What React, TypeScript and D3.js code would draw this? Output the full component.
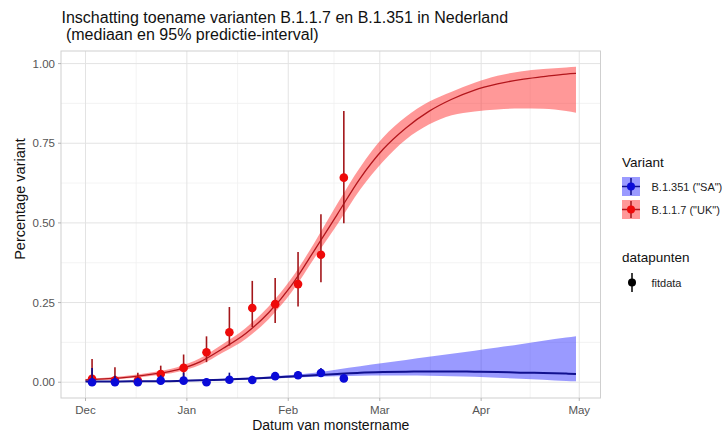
import React from "react";
import * as d3 from "d3";

// ---- data ----
const curveDates = [
  "2020-12-01", "2020-12-08", "2020-12-15", "2020-12-22", "2020-12-29",
  "2021-01-05", "2021-01-12", "2021-01-19", "2021-01-26", "2021-02-02",
  "2021-02-09", "2021-02-16", "2021-02-23", "2021-03-02", "2021-03-09",
  "2021-03-16", "2021-03-23", "2021-03-30", "2021-04-06", "2021-04-13",
  "2021-04-20", "2021-04-27", "2021-04-30",
];
const ukMedian = [0.007, 0.011, 0.017, 0.026, 0.039, 0.064, 0.106, 0.153, 0.218, 0.304, 0.414, 0.527, 0.640, 0.731, 0.798, 0.850, 0.888, 0.917, 0.936, 0.950, 0.959, 0.967, 0.969];
const ukLower = [0.005, 0.008, 0.013, 0.021, 0.032, 0.054, 0.093, 0.136, 0.198, 0.282, 0.390, 0.495, 0.605, 0.693, 0.762, 0.809, 0.838, 0.850, 0.856, 0.859, 0.858, 0.851, 0.846];
const ukUpper = [0.010, 0.015, 0.022, 0.032, 0.047, 0.075, 0.120, 0.170, 0.238, 0.326, 0.438, 0.560, 0.675, 0.768, 0.833, 0.880, 0.912, 0.940, 0.962, 0.975, 0.983, 0.988, 0.990];
const saMedian = [0.002, 0.002, 0.003, 0.003, 0.004, 0.006, 0.008, 0.011, 0.014, 0.018, 0.022, 0.026, 0.030, 0.032, 0.033, 0.034, 0.034, 0.033, 0.032, 0.030, 0.029, 0.027, 0.026];
const saLower = [0.001, 0.001, 0.002, 0.002, 0.003, 0.004, 0.006, 0.008, 0.011, 0.014, 0.017, 0.019, 0.020, 0.021, 0.021, 0.020, 0.019, 0.017, 0.014, 0.011, 0.008, 0.004, 0.003];
const saUpper = [0.004, 0.004, 0.005, 0.005, 0.006, 0.008, 0.011, 0.014, 0.018, 0.023, 0.030, 0.040, 0.050, 0.060, 0.070, 0.080, 0.089, 0.099, 0.109, 0.119, 0.130, 0.140, 0.144];

const pointDates = [
  "2020-12-03", "2020-12-10", "2020-12-17", "2020-12-24", "2020-12-31",
  "2021-01-07", "2021-01-14", "2021-01-21", "2021-01-28", "2021-02-04",
  "2021-02-11", "2021-02-18",
];
const ukPoint = [0.011, 0.006, 0.005, 0.026, 0.045, 0.094, 0.157, 0.233, 0.245, 0.308, 0.400, 0.642];
const ukPointLo = [0.000, 0.000, 0.000, 0.005, 0.017, 0.063, 0.115, 0.173, 0.186, 0.238, 0.314, 0.499];
const ukPointHi = [0.073, 0.047, 0.030, 0.052, 0.087, 0.144, 0.236, 0.318, 0.327, 0.409, 0.527, 0.851];
const saPoint = [0.000, 0.000, 0.000, 0.005, 0.005, 0.000, 0.008, 0.007, 0.019, 0.022, 0.029, 0.012];
const saPointLo = [0.000, 0.000, 0.000, 0.000, 0.000, 0.000, 0.001, 0.001, 0.010, 0.012, 0.018, 0.004];
const saPointHi = [0.045, 0.020, 0.015, 0.022, 0.030, 0.012, 0.030, 0.020, 0.032, 0.035, 0.045, 0.025];

const yTicks = [0, 0.25, 0.5, 0.75, 1];
const variantLabels = ['B.1.351 ("SA")', 'B.1.1.7 ("UK")'];
const titleLines = ["Inschatting toename varianten B.1.1.7 en B.1.351 in Nederland", " (mediaan en 95% predictie-interval)"];

// ---- styling ----
const W = 725, H = 436;
const panel = { left: 61, right: 600.5, top: 51, bottom: 398 };
const FONT = "'Liberation Sans', Arial, Helvetica, sans-serif";
const RED = { ribbon: "#ff1a1a", line: "#b3161c", point: "#ee0a0a", bar: "#a3161a" };
const BLUE = { ribbon: "#2020ff", line: "#10108f", point: "#0a0ad8", bar: "#0a0a8a" };

const parse = d3.utcParse("%Y-%m-%d");

export default function App() {
  const cd = curveDates.map((s) => parse(s) as Date);
  const pd = pointDates.map((s) => parse(s) as Date);

  const [xmin, xmax] = d3.extent(cd) as [Date, Date];
  const span = +xmax - +xmin;
  const x = d3
    .scaleUtc()
    .domain([new Date(+xmin - 0.05 * span), new Date(+xmax + 0.05 * span)])
    .range([panel.left, panel.right]);

  const ymin = 0, ymax = d3.max(ukUpper) as number;
  const yspan = ymax - ymin;
  const y = d3
    .scaleLinear()
    .domain([ymin - 0.05 * yspan, ymax + 0.05 * yspan])
    .range([panel.bottom, panel.top]);

  const majorX = d3.utcMonth.range(x.domain()[0], x.domain()[1]).filter((d) => d >= x.domain()[0]);
  const minorX = majorX.slice(1).map((d, i) => new Date((+d + +majorX[i]) / 2));
  const minorY = yTicks.slice(1).map((d, i) => (d + yTicks[i]) / 2);

  const area = (lo: number[], hi: number[]) =>
    d3
      .area<number>()
      .x((i) => x(cd[i]))
      .y0((i) => y(lo[i]))
      .y1((i) => y(hi[i]))
      .curve(d3.curveMonotoneX)(d3.range(cd.length)) as string;
  const line = (v: number[]) =>
    d3
      .line<number>()
      .x((i) => x(cd[i]))
      .y((i) => y(v[i]))
      .curve(d3.curveMonotoneX)(d3.range(cd.length)) as string;

  const fmtY = d3.format(".2f");
  const fmtM = d3.utcFormat("%b");

  const series = [
    { col: RED, med: ukMedian, lo: ukLower, hi: ukUpper, p: ukPoint, plo: ukPointLo, phi: ukPointHi, lw: 1.3 },
    { col: BLUE, med: saMedian, lo: saLower, hi: saUpper, p: saPoint, plo: saPointLo, phi: saPointHi, lw: 2 },
  ];

  const legendCols = [BLUE, RED];
  const keyX = 622, keyW = 18;
  const keyY = [177, 200];
  const keyH = 19;

  return (
    <svg width={W} height={H} style={{ position: "absolute", left: 0, top: 0, background: "#fff" }} fontFamily={FONT}>
      <rect x={0} y={0} width={W} height={H} fill="#fff" />
      {/* title */}
      <text x={61.5} y={23} fontSize={16} fill="#111">{titleLines[0]}</text>
      <text x={61.5} y={39.5} fontSize={16} fill="#111" style={{ whiteSpace: "pre" }}>{titleLines[1]}</text>

      {/* panel grid */}
      <g>
        {minorY.map((v) => (
          <line key={"my" + v} x1={panel.left} x2={panel.right} y1={y(v)} y2={y(v)} stroke="#f0f0f0" strokeWidth={0.8} />
        ))}
        {minorX.map((d) => (
          <line key={"mx" + +d} x1={x(d)} x2={x(d)} y1={panel.top} y2={panel.bottom} stroke="#f0f0f0" strokeWidth={0.8} />
        ))}
        {yTicks.map((v) => (
          <line key={"gy" + v} x1={panel.left} x2={panel.right} y1={y(v)} y2={y(v)} stroke="#e3e3e3" strokeWidth={1} />
        ))}
        {majorX.map((d) => (
          <line key={"gx" + +d} x1={x(d)} x2={x(d)} y1={panel.top} y2={panel.bottom} stroke="#e3e3e3" strokeWidth={1} />
        ))}
      </g>

      {/* ribbons */}
      {series.map((s, k) => (
        <path key={"rib" + k} d={area(s.lo, s.hi)} fill={s.col.ribbon} fillOpacity={0.45} stroke="none" />
      ))}
      {/* median lines */}
      {series.map((s, k) => (
        <path key={"med" + k} d={line(s.med)} fill="none" stroke={s.col.line} strokeWidth={s.lw} />
      ))}
      {/* point ranges */}
      {series.map((s, k) => (
        <g key={"pts" + k}>
          {pd.map((d, i) => (
            <line key={"b" + i} x1={x(d)} x2={x(d)} y1={y(s.plo[i])} y2={y(s.phi[i])} stroke={s.col.bar} strokeWidth={1.6} />
          ))}
          {pd.map((d, i) => (
            <circle key={"c" + i} cx={x(d)} cy={y(s.p[i])} r={4.3} fill={s.col.point} />
          ))}
        </g>
      ))}

      {/* panel border */}
      <rect x={panel.left} y={panel.top} width={panel.right - panel.left} height={panel.bottom - panel.top} fill="none" stroke="#cfcfcf" strokeWidth={1} />

      {/* y axis */}
      {yTicks.map((v) => (
        <g key={"yt" + v}>
          <line x1={panel.left - 3} x2={panel.left} y1={y(v)} y2={y(v)} stroke="#b3b3b3" />
          <text x={panel.left - 6} y={y(v)} dy="0.35em" textAnchor="end" fontSize={11.5} fill="#555">{fmtY(v)}</text>
        </g>
      ))}
      {/* x axis */}
      {majorX.map((d) => (
        <g key={"xt" + +d}>
          <line x1={x(d)} x2={x(d)} y1={panel.bottom} y2={panel.bottom + 3} stroke="#b3b3b3" />
          <text x={x(d)} y={414} textAnchor="middle" fontSize={11.5} fill="#555">{fmtM(d)}</text>
        </g>
      ))}
      <text x={(panel.left + panel.right) / 2} y={430} textAnchor="middle" fontSize={14} fill="#111">Datum van monstername</text>
      <text transform={`translate(25,199) rotate(-90)`} textAnchor="middle" fontSize={14.5} fill="#111">Percentage variant</text>

      {/* legend: Variant */}
      <text x={622} y={167} fontSize={13.5} fill="#111">Variant</text>
      {legendCols.map((c, i) => {
        const cx = keyX + keyW / 2;
        const cy = keyY[i] + keyH / 2;
        return (
          <g key={"lk" + i}>
            <rect x={keyX} y={keyY[i]} width={keyW} height={keyH} fill={c.ribbon} fillOpacity={0.45} />
            <line x1={keyX} x2={keyX + keyW} y1={cy} y2={cy} stroke={c.line} strokeWidth={1.5} />
            <line x1={cx} x2={cx} y1={keyY[i] + 1} y2={keyY[i] + keyH - 1} stroke={c.bar} strokeWidth={1.5} />
            <circle cx={cx} cy={cy} r={4} fill={c.point} />
            <text x={651.5} y={cy + 4} fontSize={11} fill="#222">{variantLabels[i]}</text>
          </g>
        );
      })}

      {/* legend: datapunten */}
      <text x={622} y={262} fontSize={13.5} fill="#111">datapunten</text>
      <line x1={632} x2={632} y1={273} y2={292} stroke="#000" strokeWidth={1.5} />
      <circle cx={632} cy={282.5} r={4} fill="#000" />
      <text x={651.5} y={286.5} fontSize={11} fill="#222">fitdata</text>
    </svg>
  );
}
